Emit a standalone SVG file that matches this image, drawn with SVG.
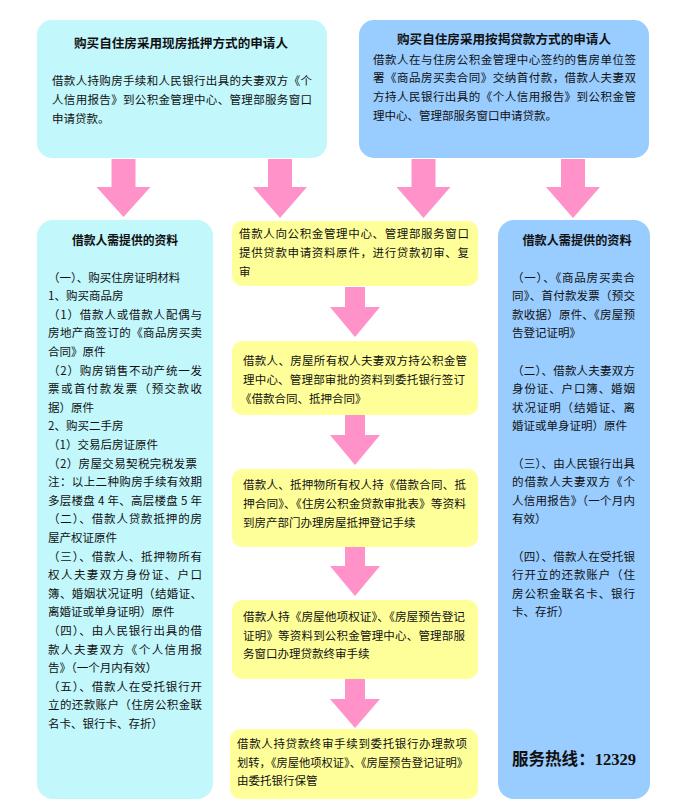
<svg xmlns="http://www.w3.org/2000/svg" width="692" height="800" viewBox="0 0 692 800">
<style>
.cyan{fill:#C2F7FC}
.blue{fill:#99CCFF}
.yellow{fill:#FFFF99}
.arrow{fill:#FF92C9}
text{font-family:"Noto Sans CJK SC","Noto Sans",sans-serif;font-size:11.5px;fill:#111}
.title{font-weight:bold;font-size:12.5px;text-anchor:middle}
.hot{font-family:"Liberation Serif","Noto Sans CJK SC",serif;font-weight:bold;font-size:17px}
</style>
<rect width="692" height="800" fill="#FFFFFF"/>

<g id="connectors">
<polygon class="arrow" points="111.5,159 135.5,159 135.5,187 150.5,187 123.5,217 96.5,187 111.5,187"/>
<polygon class="arrow" points="268,159 292,159 292,187 307,187 280,218 253,187 268,187"/>
<polygon class="arrow" points="411.5,159 435.5,159 435.5,187 450.5,187 423.5,218 396.5,187 411.5,187"/>
<polygon class="arrow" points="561,159 585,159 585,187 600,187 573,218 546,187 561,187"/>
<polygon class="arrow" points="345,287 365,287 365,307 380,307 355,337 330,307 345,307"/>
<polygon class="arrow" points="345,415 365,415 365,435 380,435 355,465 330,435 345,435"/>
<polygon class="arrow" points="345,547 365,547 365,566 380,566 355,596 330,566 345,566"/>
<polygon class="arrow" points="345,679 365,679 365,699 380,699 355,728 330,699 345,699"/>
</g>

<g id="top-left">
<rect class="cyan" x="37" y="20" width="290" height="138" rx="15"/>
<text class="title" x="181" y="47.5" textLength="214" lengthAdjust="spacingAndGlyphs">购买自住房采用现房抵押方式的申请人</text>
<text x="52" y="84.5" textLength="260" lengthAdjust="spacing">借款人持购房手续和人民银行出具的夫妻双方《个</text>
<text x="52" y="103.5" textLength="260" lengthAdjust="spacing">人信用报告》到公积金管理中心、管理部服务窗口</text>
<text x="52" y="122.5">申请贷款。</text>
</g>

<g id="top-right">
<rect class="blue" x="359" y="20" width="290" height="138" rx="15"/>
<text class="title" x="504" y="43.5" textLength="214" lengthAdjust="spacingAndGlyphs">购买自住房采用按揭贷款方式的申请人</text>
<text x="373" y="63.5" textLength="263" lengthAdjust="spacing">借款人在与住房公积金管理中心签约的售房单位签</text>
<text x="373" y="82.3" textLength="263" lengthAdjust="spacing">署《商品房买卖合同》交纳首付款，借款人夫妻双</text>
<text x="373" y="101" textLength="263" lengthAdjust="spacing">方持人民银行出具的《个人信用报告》到公积金管</text>
<text x="373" y="119.7">理中心、管理部服务窗口申请贷款。</text>
</g>

<g id="left-materials">
<rect class="cyan" x="37" y="220" width="176" height="579" rx="16"/>
<text class="title" x="125" y="244.5" textLength="106" lengthAdjust="spacingAndGlyphs">借款人需提供的资料</text>
<text x="48" y="281.5">（一）、购买住房证明材料</text>
<text x="48" y="300.1">1、购买商品房</text>
<text x="48" y="318.7" textLength="154" lengthAdjust="spacing">（1）借款人或借款人配偶与</text>
<text x="48" y="337.3" textLength="154" lengthAdjust="spacing">房地产商签订的《商品房买卖</text>
<text x="48" y="355.9">合同》原件</text>
<text x="48" y="374.5" textLength="154" lengthAdjust="spacing">（2）购房销售不动产统一发</text>
<text x="48" y="393.1" textLength="154" lengthAdjust="spacing">票或首付款发票（预交款收</text>
<text x="48" y="411.7">据）原件</text>
<text x="48" y="430.3">2、购买二手房</text>
<text x="48" y="448.9">（1）交易后房证原件</text>
<text x="48" y="467.5" textLength="149" lengthAdjust="spacing">（2）房屋交易契税完税发票</text>
<text x="48" y="486.1" textLength="154" lengthAdjust="spacing">注：以上二种购房手续有效期</text>
<text x="48" y="504.7" textLength="154" lengthAdjust="spacing">多层楼盘 4 年、高层楼盘 5 年</text>
<text x="48" y="523.3" textLength="154" lengthAdjust="spacing">（二）、借款人贷款抵押的房</text>
<text x="48" y="541.9">屋产权证原件</text>
<text x="48" y="560.5" textLength="154" lengthAdjust="spacing">（三）、借款人、抵押物所有</text>
<text x="48" y="579.1" textLength="154" lengthAdjust="spacing">权人夫妻双方身份证、户口</text>
<text x="48" y="597.7" textLength="154" lengthAdjust="spacing">簿、婚姻状况证明（结婚证、</text>
<text x="48" y="616.3">离婚证或单身证明）原件</text>
<text x="48" y="634.9" textLength="154" lengthAdjust="spacing">（四）、由人民银行出具的借</text>
<text x="48" y="653.5" textLength="154" lengthAdjust="spacing">款人夫妻双方《个人信用报</text>
<text x="48" y="672.1">告》（一个月内有效）</text>
<text x="48" y="690.7" textLength="154" lengthAdjust="spacing">（五）、借款人在受托银行开</text>
<text x="48" y="709.3" textLength="154" lengthAdjust="spacing">立的还款账户（住房公积金联</text>
<text x="48" y="727.9">名卡、银行卡、存折）</text>
</g>

<g id="step1">
<rect class="yellow" x="232" y="221" width="246" height="65" rx="10"/>
<text x="239" y="238.4" textLength="230" lengthAdjust="spacing">借款人向公积金管理中心、管理部服务窗口</text>
<text x="239" y="257.2" textLength="230" lengthAdjust="spacing">提供贷款申请资料原件，进行贷款初审、复</text>
<text x="239" y="275.8">审</text>
</g>

<g id="step2">
<rect class="yellow" x="232" y="341" width="246" height="74" rx="10"/>
<text x="243" y="365.4" textLength="224" lengthAdjust="spacing">借款人、房屋所有权人夫妻双方持公积金管</text>
<text x="243" y="384.2" textLength="222" lengthAdjust="spacing">理中心、管理部审批的资料到委托银行签订</text>
<text x="240" y="402.8">《借款合同、抵押合同》</text>
</g>

<g id="step3">
<rect class="yellow" x="232" y="469" width="246" height="78" rx="10"/>
<text x="243" y="489.4" textLength="223" lengthAdjust="spacing">借款人、抵押物所有权人持《借款合同、抵</text>
<text x="243" y="508.2" textLength="223" lengthAdjust="spacingAndGlyphs">押合同》、《住房公积金贷款审批表》等资料</text>
<text x="243" y="526.8">到房产部门办理房屋抵押登记手续</text>
</g>

<g id="step4">
<rect class="yellow" x="232" y="600" width="246" height="79" rx="10"/>
<text x="243" y="621.4" textLength="222" lengthAdjust="spacingAndGlyphs">借款人持《房屋他项权证》、《房屋预告登记</text>
<text x="243" y="639.6" textLength="222" lengthAdjust="spacing">证明》等资料到公积金管理中心、管理部服</text>
<text x="243" y="657.8">务窗口办理贷款终审手续</text>
</g>

<g id="step5">
<rect class="yellow" x="230" y="729" width="248" height="70" rx="10"/>
<text x="237" y="748.4" textLength="230" lengthAdjust="spacing">借款人持贷款终审手续到委托银行办理款项</text>
<text x="237" y="766.6" textLength="231" lengthAdjust="spacingAndGlyphs">划转，《房屋他项权证》、《房屋预告登记证明》</text>
<text x="237" y="784.6">由委托银行保管</text>
</g>

<g id="right-materials">
<rect class="blue" x="498" y="220" width="152" height="579" rx="16"/>
<text class="title" x="577" y="244.5" textLength="109" lengthAdjust="spacingAndGlyphs">借款人需提供的资料</text>
<text x="512" y="281.5" textLength="123" lengthAdjust="spacing">（一）、《商品房买卖合</text>
<text x="512" y="300.1" textLength="123" lengthAdjust="spacing">同》、首付款发票（预交</text>
<text x="512" y="318.7" textLength="123" lengthAdjust="spacing">款收据）原件、《房屋预</text>
<text x="512" y="337.3">告登记证明》</text>
<text x="512" y="374.5" textLength="123" lengthAdjust="spacing">（二）、借款人夫妻双方</text>
<text x="512" y="393.1" textLength="123" lengthAdjust="spacing">身份证、户口簿、婚姻</text>
<text x="512" y="411.7" textLength="123" lengthAdjust="spacing">状况证明（结婚证、离</text>
<text x="512" y="430.3">婚证或单身证明）原件</text>
<text x="512" y="467.5" textLength="123" lengthAdjust="spacing">（三）、由人民银行出具</text>
<text x="512" y="486.1" textLength="123" lengthAdjust="spacing">的借款人夫妻双方《个</text>
<text x="512" y="504.7" textLength="123" lengthAdjust="spacing">人信用报告》（一个月内</text>
<text x="512" y="523.3">有效）</text>
<text x="512" y="560.5" textLength="123" lengthAdjust="spacing">（四）、借款人在受托银</text>
<text x="512" y="579.1" textLength="123" lengthAdjust="spacing">行开立的还款账户（住</text>
<text x="512" y="597.7" textLength="123" lengthAdjust="spacing">房公积金联名卡、银行</text>
<text x="512" y="616.3">卡、存折）</text>
<text class="hot" x="512" y="765" textLength="124" lengthAdjust="spacingAndGlyphs">服务热线：12329</text>
</g>
</svg>
